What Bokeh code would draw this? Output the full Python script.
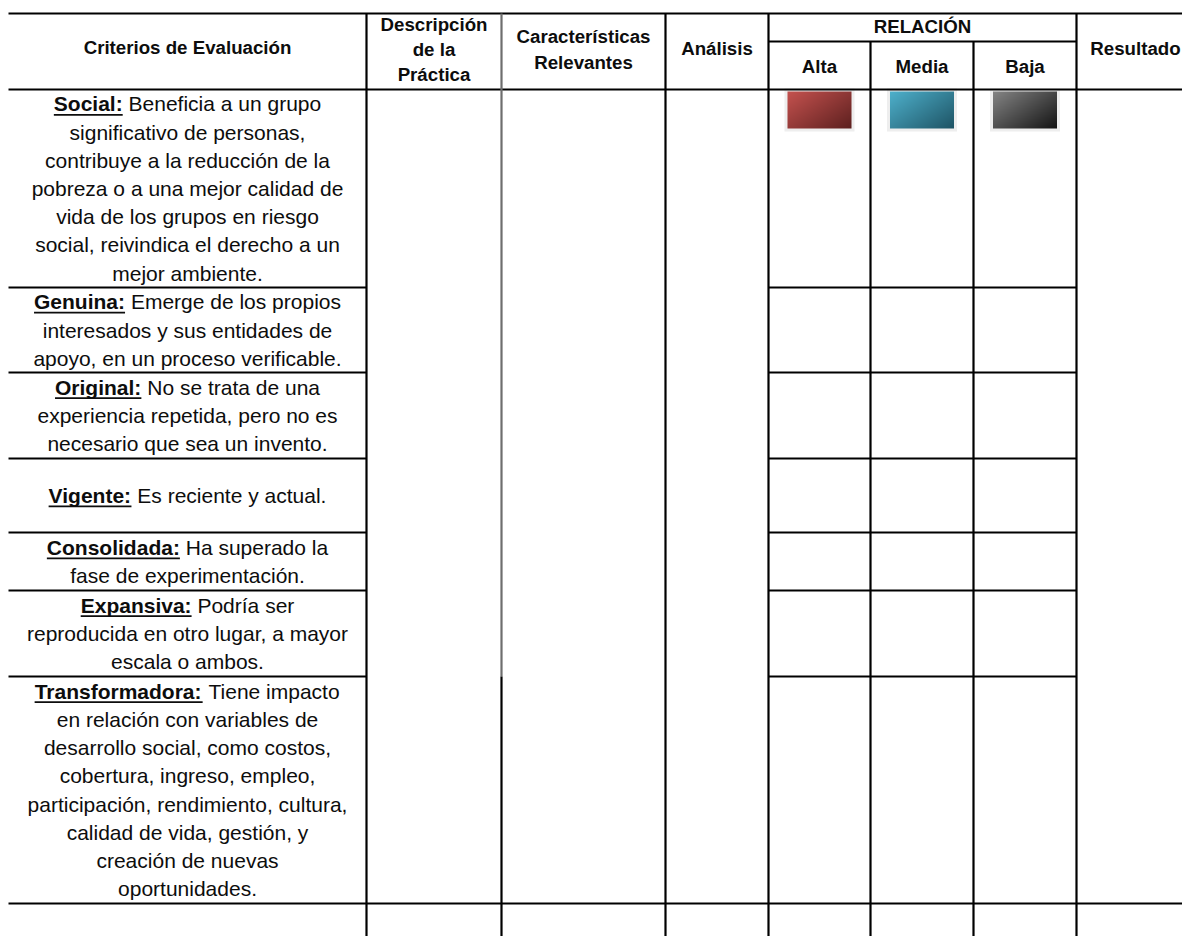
import numpy as np
from bokeh.plotting import figure
from bokeh.models import Range1d
from bokeh.core.properties import value
from bokeh.embed import file_html
from bokeh.resources import INLINE

# ---------------- data (texts) ----------------
header_main = "Criterios de Evaluación"
header_desc = ["Descripción", "de la", "Práctica"]
header_carac = ["Características", "Relevantes"]
header_anal = "Análisis"
header_rel = "RELACIÓN"
rel_levels = ["Alta", "Media", "Baja"]
header_res = "Resultado"

criteria_labels = ["Social:", "Genuina:", "Original:", "Vigente:",
                   "Consolidada:", "Expansiva:", "Transformadora:"]
criteria_lines = [
    ["Beneficia a un grupo", "significativo de personas,",
     "contribuye a la reducción de la", "pobreza o a una mejor calidad de",
     "vida de los grupos en riesgo", "social, reivindica el derecho a un",
     "mejor ambiente."],
    ["Emerge de los propios", "interesados y sus entidades de",
     "apoyo, en un proceso verificable."],
    ["No se trata de una", "experiencia repetida, pero no es",
     "necesario que sea un invento."],
    ["Es reciente y actual."],
    ["Ha superado la", "fase de experimentación."],
    ["Podría ser", "reproducida en otro lugar, a mayor", "escala o ambos."],
    ["Tiene impacto", "en relación con variables de",
     "desarrollo social, como costos,", "cobertura, ingreso, empleo,",
     "participación, rendimiento, cultura,", "calidad de vida, gestión, y",
     "creación de nuevas", "oportunidades."],
]
swatch_colors = [("#c4524f", "#5e2120"), ("#4eb0cb", "#1f5566"), ("#848484", "#151515")]

# ---------------- layout ----------------
col_edges = [8, 366, 501, 665, 768, 870, 973, 1076, 1182]
row_edges = [89, 287, 372, 458, 532, 590, 676, 903, 936]
top_y, rel_sub_y = 13, 41
FS_BODY, FS_HEAD, LINE_H = 21, 18.7, 28.2
FONT = value("Liberation Sans")
INK = "#0d0d0d"

# Helvetica/Arial metrics (per 1000 em)
_r_low = [556,556,500,556,556,278,556,556,222,222,500,222,833,556,556,556,556,333,500,278,556,500,722,500,500,500]
_r_up = [667,667,722,722,667,611,778,722,278,500,667,556,833,722,778,667,778,722,667,611,722,667,944,667,667,611]
_b_low = [556,611,556,611,556,333,611,611,278,278,556,278,889,611,611,611,611,389,556,333,611,556,778,556,556,500]
_b_up = [722,722,722,722,667,611,778,722,278,556,722,611,833,722,778,667,778,722,667,611,722,667,944,667,667,611]
low = "abcdefghijklmnopqrstuvwxyz"
up = low.upper()
REG = dict(zip(low, _r_low)); REG.update(zip(up, _r_up))
REG.update({" ": 278, ",": 278, ".": 278, ":": 278, "á": 556, "é": 556, "í": 278, "ó": 556, "ú": 556, "ñ": 556})
BOLD = dict(zip(low, _b_low)); BOLD.update(zip(up, _b_up))
BOLD.update({" ": 278, ",": 278, ".": 278, ":": 333, "á": 556, "é": 556, "í": 278, "ó": 611, "ú": 611, "ñ": 611})


def tw(s, table, fs):
    return sum(table.get(c, 556) for c in s) * fs / 1000.0


W, H = 1182, 936
p = figure(width=W, height=H, output_backend="svg", toolbar_location=None,
           x_range=Range1d(0, W), y_range=Range1d(H, 0),
           x_axis_type=None, y_axis_type=None, min_border=0)
p.outline_line_color = None
p.grid.visible = False
p.background_fill_color = "white"
p.border_fill_color = "white"

# ---------------- swatches ----------------
sw_w, sw_h, sw_top = 64, 37, 91
for k, (c0, c1) in enumerate(swatch_colors):
    cx = (col_edges[4 + k] + col_edges[5 + k]) / 2
    x0 = cx - sw_w / 2
    p.rect(x=[cx], y=[sw_top + sw_h / 2], width=[sw_w + 6], height=[sw_h + 6],
           fill_color="#eeeeee", line_color=None)
    a = np.array([int(c0[i:i + 2], 16) for i in (1, 3, 5)], float)
    b = np.array([int(c1[i:i + 2], 16) for i in (1, 3, 5)], float)
    yy, xx = np.mgrid[0:sw_h, 0:sw_w]
    t = (xx / (sw_w - 1) * 0.55 + yy / (sw_h - 1) * 0.45)[..., None]
    rgb = (a * (1 - t) + b * t).astype(np.uint32)
    img = (255 << 24) | (rgb[..., 2] << 16) | (rgb[..., 1] << 8) | rgb[..., 0]
    p.image_rgba(image=[img.astype(np.uint32)], x=x0, y=sw_top, dw=sw_w, dh=sw_h)

# ---------------- grid lines ----------------
X0, Y0, X1, Y1, LC = [], [], [], [], []
def seg(x0, y0, x1, y1, c="black"):
    X0.append(x0); Y0.append(y0); X1.append(x1); Y1.append(y1); LC.append(c)

for y in (top_y, row_edges[0], row_edges[-2]):
    seg(col_edges[0], y, col_edges[-1], y)
seg(col_edges[4], rel_sub_y, col_edges[7], rel_sub_y)
for y in row_edges[1:-2]:
    seg(col_edges[0], y, col_edges[1], y)
    seg(col_edges[4], y, col_edges[7], y)
for i in (1, 3, 4, 7):
    seg(col_edges[i], top_y, col_edges[i], H)
for i in (5, 6):
    seg(col_edges[i], rel_sub_y, col_edges[i], H)
seg(col_edges[2], top_y, col_edges[2], row_edges[6], "#6e6e6e")
seg(col_edges[2], row_edges[6], col_edges[2], H)

p.segment(x0=X0, y0=Y0, x1=X1, y1=Y1, line_color=LC, line_width=2.2)

# ---------------- header texts ----------------
HX, HY, HT = [], [], []
def htxt(x, y, s):
    HX.append(x); HY.append(y); HT.append(s)

htxt((col_edges[0] + col_edges[1]) / 2, 47, header_main)
for s, y in zip(header_desc, (24, 49, 74)):
    htxt((col_edges[1] + col_edges[2]) / 2, y, s)
for s, y in zip(header_carac, (36, 62)):
    htxt((col_edges[2] + col_edges[3]) / 2, y, s)
htxt((col_edges[3] + col_edges[4]) / 2, 48, header_anal)
htxt((col_edges[4] + col_edges[7]) / 2, 26, header_rel)
for k, s in enumerate(rel_levels):
    htxt((col_edges[4 + k] + col_edges[5 + k]) / 2, 66, s)
htxt(1135, 48, header_res)

p.text(x=HX, y=HY, text=HT, text_font=FONT, text_font_style="bold",
       text_font_size=f"{FS_HEAD}px", text_align="center", text_baseline="middle",
       text_color=INK)

# ---------------- criteria texts ----------------
cx = (col_edges[0] + col_edges[1]) / 2
sp = tw(" ", REG, FS_BODY)
BX, BY, BT = [], [], []
RX, RY, RT = [], [], []
CX, CY, CT = [], [], []
UX0, UX1, UY = [], [], []
for r, (lab, lines) in enumerate(zip(criteria_labels, criteria_lines)):
    top, bot = row_edges[r], row_edges[r + 1]
    mid = (top + bot) / 2
    n = len(lines)
    for i, s in enumerate(lines):
        y = mid + (i - (n - 1) / 2) * LINE_H
        if i == 0:
            wb = tw(lab, BOLD, FS_BODY)
            wr = tw(s, REG, FS_BODY)
            x0 = cx - (wb + sp + wr) / 2
            BX.append(x0); BY.append(y); BT.append(lab)
            RX.append(x0 + wb + sp); RY.append(y); RT.append(s)
            UX0.append(x0); UX1.append(x0 + wb); UY.append(y + 0.52 * FS_BODY)
        else:
            CX.append(cx); CY.append(y); CT.append(s)

p.text(x=BX, y=BY, text=BT, text_font=FONT, text_font_style="bold",
       text_font_size=f"{FS_BODY}px", text_align="left", text_baseline="middle", text_color=INK)
p.text(x=RX, y=RY, text=RT, text_font=FONT, text_font_size=f"{FS_BODY}px",
       text_align="left", text_baseline="middle", text_color=INK)
p.text(x=CX, y=CY, text=CT, text_font=FONT, text_font_size=f"{FS_BODY}px",
       text_align="center", text_baseline="middle", text_color=INK)
p.segment(x0=UX0, y0=UY, x1=UX1, y1=UY, line_color=INK, line_width=1.8)

open("out.html", "w").write(file_html(p, INLINE))
